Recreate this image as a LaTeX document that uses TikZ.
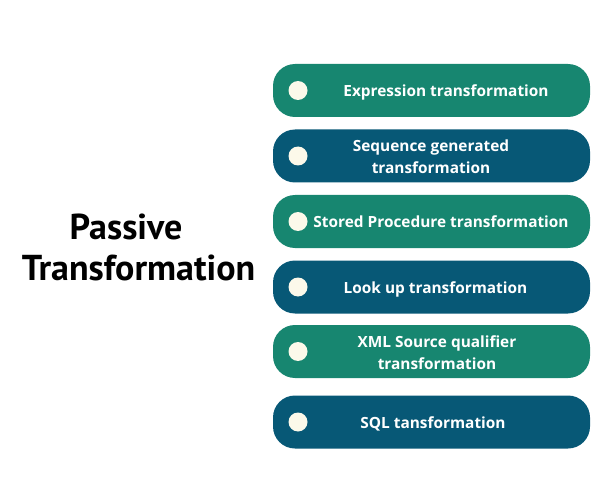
\documentclass[tikz,border=0pt]{standalone}
\usepackage{fontspec}
\setmainfont{PT Sans}
\newfontfamily\lblfont{Open Sans}
\definecolor{tgreen}{RGB}{23,134,112}
\definecolor{tblue}{RGB}{7,88,118}
\definecolor{cream}{RGB}{252,249,234}
\begin{document}
\begin{tikzpicture}[x=1pt,y=-1pt,
  pill/.style={rounded corners=22pt,minimum width=317pt,minimum height=53pt,inner sep=0pt},
  dot/.style={circle,fill=cream,minimum size=19pt,inner sep=0pt},
  lbl/.style={text=white,font=\lblfont\bfseries\fontsize{15.4}{22}\selectfont,align=center,inner sep=0pt},
  ttl/.style={font=\bfseries\fontsize{36}{41}\selectfont,anchor=base,inner sep=0pt}]
\useasboundingbox (0,0) rectangle (600,500);
\foreach \n/\y/\c in {1/90.5/tgreen,2/156/tblue,3/221.5/tgreen,4/287/tblue,5/351.5/tgreen,6/422/tblue}{
  \node[pill,fill=\c] (b\n) at (431.5,\y) {};
  \node[dot] (d\n) at (298,\y) {};
}
\node[lbl] (t1) at (446,92.5) {Expression transformation};
\node[lbl] (t2) at (431,156.5) {Sequence generated\\transformation};
\node[lbl] (t3) at (441,222) {Stored Procedure transformation};
\node[lbl] (t4) at (435.5,289.5) {Look up transformation};
\node[lbl] (t5) at (437,352.5) {XML Source qualifier\\transformation};
\node[lbl] (t6) at (433,423.5) {SQL tansformation};
\node[ttl] (title1) at (126,239) {Passive};
\node[ttl] (title2) at (138.5,280) {Transformation};
\end{tikzpicture}
\end{document}
